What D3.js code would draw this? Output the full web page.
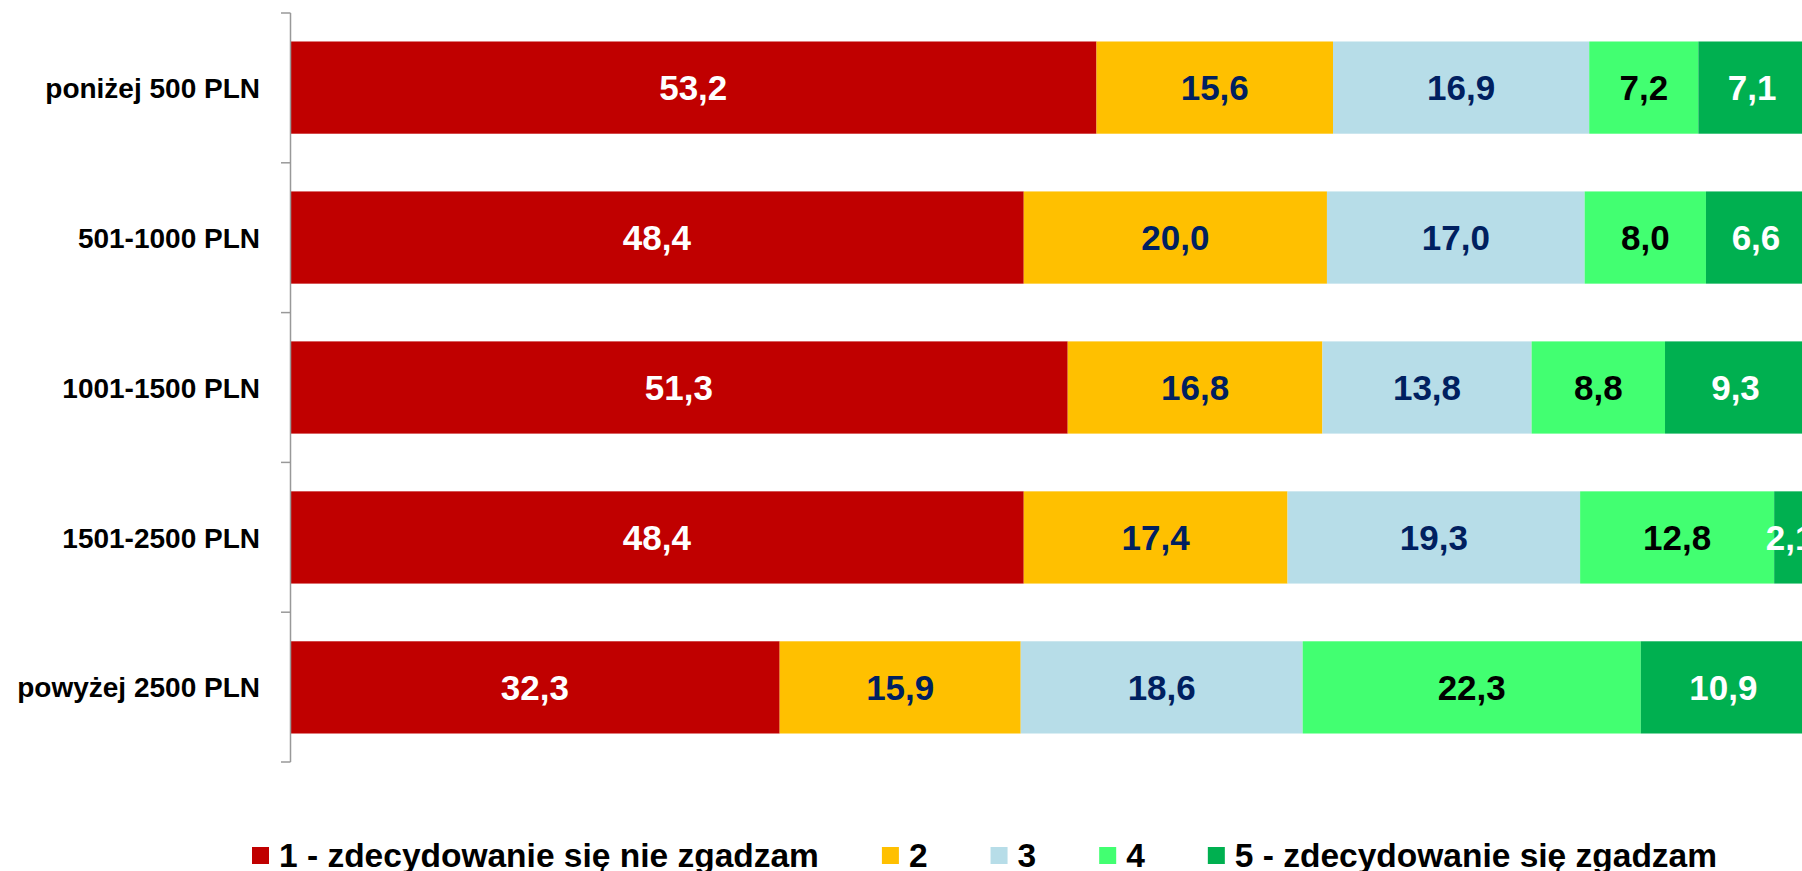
<!DOCTYPE html>
<html>
<head>
<meta charset="utf-8">
<script src="https://cdn.jsdelivr.net/npm/d3@7"></script>
<style>
  html, body { margin: 0; padding: 0; background: #fff; overflow: hidden; }
  svg { display: block; font-family: "Liberation Sans", Arial, sans-serif; font-weight: bold; }
</style>
</head>
<body>
<svg width="1802" height="871"></svg>
<script>
const categories = ['poniżej 500 PLN', '501-1000 PLN', '1001-1500 PLN', '1501-2500 PLN', 'powyżej 2500 PLN'];
const seriesNames = ['1 - zdecydowanie się nie zgadzam', '2', '3', '4', '5 - zdecydowanie się zgadzam'];
const s1 = [53.2, 48.4, 51.3, 48.4, 32.3];
const s2 = [15.6, 20.0, 16.8, 17.4, 15.9];
const s3 = [16.9, 17.0, 13.8, 19.3, 18.6];
const s4 = [7.2, 8.0, 8.8, 12.8, 22.3];
const s5 = [7.1, 6.6, 9.3, 2.1, 10.9];

const colors = ['#C00000', '#FFC000', '#B7DDE8', '#42FF71', '#00B050'];
const labelColors = ['#ffffff', '#002060', '#002060', '#000000', '#ffffff'];

const svg = d3.select('svg');
const series = [s1, s2, s3, s4, s5];

const x = d3.scaleLinear().domain([0, 100]).range([290, 1806]);
const y = d3.scaleBand().domain(categories).range([13, 762]).paddingInner(0.385).paddingOuter(0.19);

// stack rows
const rows = categories.map((c, i) => {
  const r = { cat: c };
  seriesNames.forEach((s, k) => r[s] = series[k][i]);
  return r;
});
const stacked = d3.stack().keys(seriesNames)(rows);

const layers = svg.append('g').selectAll('g')
  .data(stacked)
  .join('g')
  .attr('fill', (d, k) => colors[k]);

layers.selectAll('rect')
  .data(d => d)
  .join('rect')
  .attr('x', d => x(d[0]))
  .attr('y', d => y(d.data.cat))
  .attr('width', d => x(d[1]) - x(d[0]))
  .attr('height', y.bandwidth());

layers.each(function(layer, k) {
  d3.select(this).selectAll('text')
    .data(layer)
    .join('text')
    .attr('x', d => (x(d[0]) + x(d[1])) / 2)
    .attr('y', d => y(d.data.cat) + y.bandwidth() / 2)
    .attr('dy', '0.36em')
    .attr('text-anchor', 'middle')
    .attr('fill', labelColors[k])
    .attr('font-size', 35)
    .text(d => (d[1] - d[0]).toFixed(1).replace('.', ','));
});

// category axis with ticks between bands
const axisG = svg.append('g');
axisG.append('line')
  .attr('x1', 290.5).attr('x2', 290.5)
  .attr('y1', y.range()[0]).attr('y2', y.range()[1])
  .attr('stroke', '#999').attr('stroke-width', 1.5);
const step = (y.range()[1] - y.range()[0]) / categories.length;
axisG.selectAll('line.tick')
  .data(d3.range(categories.length + 1))
  .join('line')
  .attr('class', 'tick')
  .attr('x1', 281).attr('x2', 290.5)
  .attr('y1', i => y.range()[0] + i * step)
  .attr('y2', i => y.range()[0] + i * step)
  .attr('stroke', '#999').attr('stroke-width', 1.5);
axisG.selectAll('text')
  .data(categories)
  .join('text')
  .attr('x', 260)
  .attr('y', d => y(d) + y.bandwidth() / 2)
  .attr('dy', '0.36em')
  .attr('text-anchor', 'end')
  .attr('font-size', 28)
  .attr('fill', '#000')
  .text(d => d);

// legend
const legend = svg.append('g');
let lx = 252;
seriesNames.forEach((name, k) => {
  const g = legend.append('g').attr('transform', 'translate(' + lx + ',0)');
  g.append('rect')
    .attr('x', 0).attr('y', 847).attr('width', 17).attr('height', 17)
    .attr('fill', colors[k]);
  const t = g.append('text')
    .attr('x', 27).attr('y', 867)
    .attr('font-size', 33.5)
    .attr('fill', '#000')
    .text(name);
  lx += 27 + t.node().getComputedTextLength() + 63;
});
</script>
</body>
</html>
